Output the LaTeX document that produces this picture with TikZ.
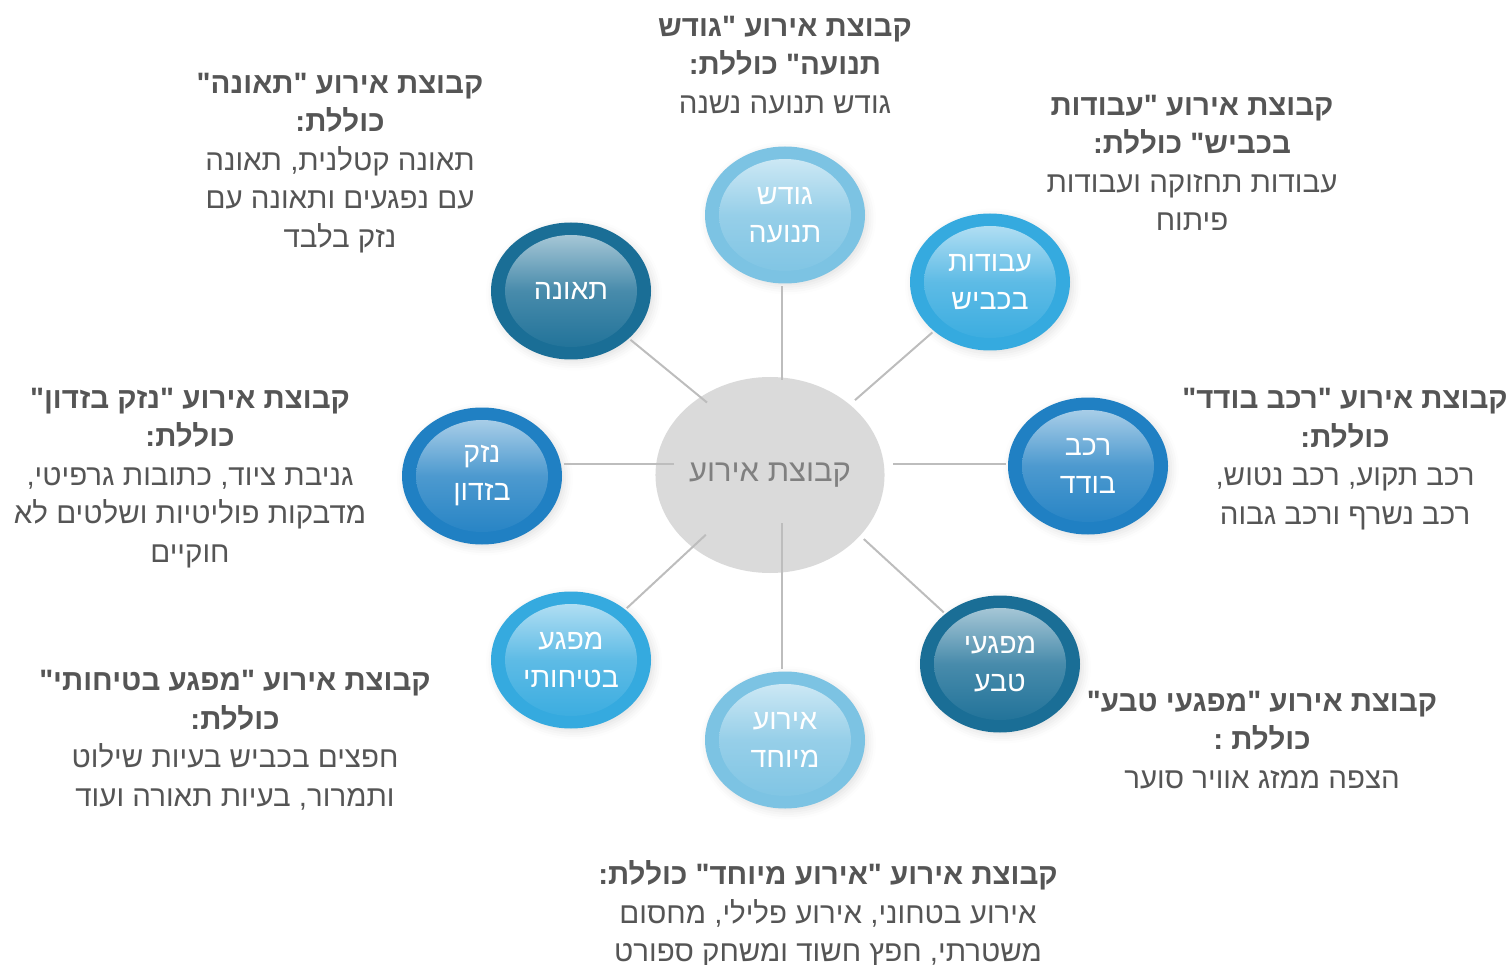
\documentclass[tikz,border=0pt]{standalone}
\usepackage{fontspec}
\usepackage{xcolor}
\usepackage{tikz}
\usetikzlibrary{shapes,positioning,shadows.blur}
\newfontfamily\hebfont[Script=Hebrew,Ligatures=TeXOff]{Liberation Sans}
\TeXXeTstate=1
\newcommand{\rtline}[1]{\beginR#1\endR}
\definecolor{darkblue}{HTML}{1A6E96}
\definecolor{midblue}{HTML}{2080C3}
\definecolor{skyblue}{HTML}{35AADF}
\definecolor{paleblue}{HTML}{7CC3E3}
\definecolor{hubgray}{HTML}{DADADA}
\definecolor{textgray}{HTML}{555555}
\definecolor{linegray}{HTML}{BDBDBD}

\begin{document}
\begin{tikzpicture}[
    x=1pt, y=-1pt,
    topic/.style={ellipse, fill=#1, minimum width=160pt, minimum height=137pt, inner sep=0pt, text=white, align=center, font=\hebfont\fontsize{28.5}{38}\selectfont,
        blur shadow={shadow xshift=3pt, shadow yshift=-3pt, shadow blur radius=8pt, shadow opacity=12},
        path picture={\shade[top color=#1!30!white, bottom color=#1, middle color=#1!80!white] (path picture bounding box.center) ellipse (66pt and 56pt);}},
    hub/.style={ellipse, fill=hubgray, inner sep=0pt, minimum width=228pt, minimum height=196pt, text=gray, font=\hebfont\fontsize{31}{38}\selectfont},
    note/.style={align=center, text=textgray, font=\hebfont\fontsize{29.5}{38.5}\selectfont},
    link/.style={draw=linegray, line width=2pt, shorten >=2pt}
]
\useasboundingbox (0,0) rectangle (1507,965);

% Hub
\node [hub] (group) at (770,475) {\rtline{קבוצת אירוע}};
\coordinate (spoke) at (782,464);

% Event circles
\node [topic=paleblue] (jam) at (785,215) {\rtline{גודש}\\\rtline{תנועה}};
\node [topic=skyblue] (works) at (990,282) {\rtline{עבודות}\\\rtline{בכביש}};
\node [topic=midblue] (vehicle) at (1088,466) {\rtline{רכב}\\\rtline{בודד}};
\node [topic=darkblue] (nature) at (1000,664) {\rtline{מפגעי}\\\rtline{טבע}};
\node [topic=paleblue] (special) at (785,740) {\rtline{אירוע}\\\rtline{מיוחד}};
\node [topic=skyblue] (safety) at (571,660) {\rtline{מפגע}\\\rtline{בטיחותי}};
\node [topic=midblue] (vandal) at (482,476) {\rtline{נזק}\\\rtline{בזדון}};
\node [topic=darkblue] (crash) at (571,291) {\rtline{תאונה}};

% Spokes
\draw [link, shorten <=84pt] (spoke) -- (spoke |- jam.south);
\draw [link, shorten <=97pt] (spoke) -- (works);
\draw [link, shorten <=111pt] (spoke) -- (spoke -| vehicle.west);
\draw [link, shorten <=111pt] (spoke) -- (nature);
\draw [link, shorten <=59pt] (spoke) -- (spoke |- special.north);
\draw [link, shorten <=104pt] (spoke) -- (safety);
\draw [link, shorten <=108pt] (spoke) -- (spoke -| vandal.east);
\draw [link, shorten <=97pt] (spoke) -- (crash);

% Descriptions
\node [note] (jamtext) at (785,65) {\rtline{\textbf{קבוצת אירוע "גודש}}\\\rtline{\textbf{תנועה" כוללת:}}\\\rtline{גודש תנועה נשנה}};
\node [note] (workstext) at (1192,163) {\rtline{\textbf{קבוצת אירוע "עבודות}}\\\rtline{\textbf{בכביש" כוללת:}}\\\rtline{עבודות תחזוקה ועבודות}\\\rtline{פיתוח}};
\node [note] (vehicletext) at (1345,459) {\rtline{\textbf{קבוצת אירוע "רכב בודד"}}\\\rtline{\textbf{כוללת:}}\\\rtline{רכב תקוע, רכב נטוש,}\\\rtline{רכב נשרף ורכב גבוה}};
\node [note] (naturetext) at (1262,740) {\rtline{\textbf{קבוצת אירוע "מפגעי טבע"}}\\\rtline{\textbf{כוללת :}}\\\rtline{הצפה ממזג אוויר סוער}};
\node [note] (specialtext) at (828,914) {\rtline{\textbf{קבוצת אירוע "אירוע מיוחד" כוללת:}}\\\rtline{אירוע בטחוני, אירוע פלילי, מחסום}\\\rtline{משטרתי, חפץ חשוד ומשחק ספורט}};
\node [note] (safetytext) at (235,740) {\rtline{\textbf{קבוצת אירוע "מפגע בטיחותי"}}\\\rtline{\textbf{כוללת:}}\\\rtline{חפצים בכביש בעיות שילוט}\\\rtline{ותמרור, בעיות תאורה ועוד}};
\node [note] (vandaltext) at (190,478) {\rtline{\textbf{קבוצת אירוע "נזק בזדון"}}\\\rtline{\textbf{כוללת:}}\\\rtline{גניבת ציוד, כתובות גרפיטי,}\\\rtline{מדבקות פוליטיות ושלטים לא}\\\rtline{חוקיים}};
\node [note] (crashtext) at (340,163) {\rtline{\textbf{קבוצת אירוע "תאונה"}}\\\rtline{\textbf{כוללת:}}\\\rtline{תאונה קטלנית, תאונה}\\\rtline{עם נפגעים ותאונה עם}\\\rtline{נזק בלבד}};

\end{tikzpicture}
\end{document}
